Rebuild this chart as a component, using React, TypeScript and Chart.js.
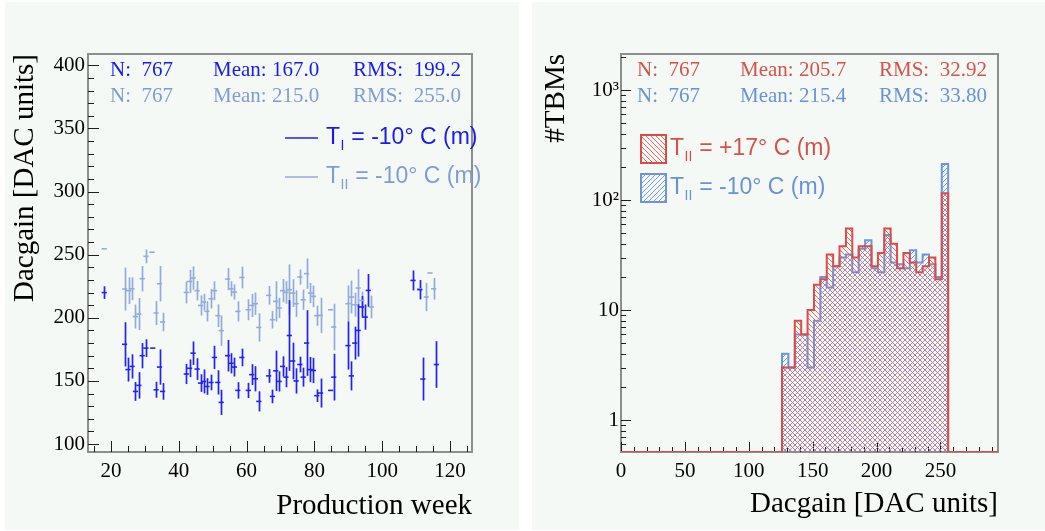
import React, { useEffect, useRef } from 'react';
import { Chart, registerables } from 'chart.js';
Chart.register(...registerables);

// ---------------- Left panel: Dacgain vs production week ----------------
const weeksI = [18.0, 24.0, 25.0, 26.2, 27.2, 28.2, 29.2, 30.3, 32.3, 33.3, 34.3, 35.2, 42.2, 43.2, 44.2, 45.4, 46.4, 47.3, 48.3, 49.5, 50.5, 51.5, 52.5, 54.4, 55.4, 56.4, 57.4, 58.6, 60.5, 61.5, 62.6, 63.6, 66.5, 67.6, 68.6, 69.6, 70.6, 71.6, 72.6, 73.6, 74.6, 75.7, 76.7, 77.7, 78.8, 79.7, 80.7, 81.8, 84.8, 85.7, 89.9, 90.9, 91.9, 92.9, 93.9, 95.0, 95.9, 109.1, 111.1, 112.0, 116.0];
const gainI = [220, 179, 159, 161.5, 141.7, 146.5, 170, 176, 176, 143, 161, 141.7, 155.5, 160, 172, 159.4, 148.3, 149.6, 145.6, 148.8, 168.6, 148.8, 133, 170, 164, 161, 142.5, 168.6, 142.5, 155, 151.7, 133.8, 154, 137.7, 158, 149.6, 161.5, 153, 186, 165.8, 150, 163, 153, 180, 159, 158.3, 138.3, 140.4, 142.5, 153, 178, 154, 180, 190, 208.6, 200.6, 221.7, 229.6, 222.3, 151.5, 163];
const errI = [5, 17.5, 9.5, 9.6, 7.5, 10.5, 10, 7, 0, 6.3, 14, 6.6, 8, 7, 9.3, 8.6, 7, 9.5, 6.6, 6.2, 9.2, 9.6, 10, 12.5, 8, 7.5, 6.5, 7, 6, 8.3, 10, 8, 5.5, 5.4, 16, 8, 8, 8, 28, 14.5, 10, 6.2, 7.5, 26, 10, 10, 5, 11.5, 0, 18.5, 19, 11.5, 13, 20.7, 8.6, 10, 13, 7.9, 7.7, 17, 18.5];

const weeksII = [18.0, 24.0, 25.2, 26.2, 27.2, 28.2, 29.2, 30.3, 32.1, 33.3, 34.3, 35.2, 42.2, 43.2, 44.2, 45.4, 46.4, 47.3, 48.3, 49.5, 50.5, 51.5, 52.5, 54.4, 55.4, 56.4, 57.4, 58.6, 60.5, 61.5, 62.6, 63.6, 66.5, 67.6, 68.6, 69.6, 70.6, 71.6, 72.6, 73.6, 74.6, 75.7, 76.7, 77.7, 78.8, 79.7, 80.7, 81.8, 84.8, 85.7, 89.9, 90.9, 91.9, 92.9, 94.0, 96.8, 111.1, 113.0, 114.1, 115.2];
const gainII = [254.7, 222.8, 221.5, 223, 201, 203, 231, 248.7, 252, 203.8, 227, 196.7, 220.1, 228.8, 231.5, 221.5, 209.8, 212.5, 205.1, 215.1, 221.5, 201.7, 189.8, 230.7, 223, 220.4, 205.1, 232, 206.4, 209.8, 211.2, 192.4, 217.8, 198.5, 213, 207.8, 221.5, 220.1, 222.3, 219.6, 211.2, 232.3, 214.3, 235, 219.6, 217, 201.7, 201.9, 206.4, 192.7, 211.2, 216.5, 210.4, 223.6, 213.8, 208.6, 223, 216.5, 235.5, 223];
const errII = [0, 17, 10.6, 9, 9.5, 12.7, 10, 5.5, 0, 9.5, 14, 7.3, 8.7, 9.2, 9.2, 7.7, 8, 6.6, 8, 7.7, 7.5, 9, 12, 8.8, 6, 6, 8, 8.6, 8.3, 9.2, 8.9, 11.2, 7.4, 7, 16, 8, 9.2, 9, 20, 11, 10.5, 6, 8, 12, 8, 8.6, 8, 14, 0, 18.5, 14.5, 13, 9.5, 15, 7, 9, 1, 11.2, 0, 8.6];

const statsLeftI = ['N:  767', 'Mean: 167.0', 'RMS:  199.2'];
const statsLeftII = ['N:  767', 'Mean: 215.0', 'RMS:  255.0'];

// ---------------- Right panel: Dacgain histograms ----------------
const binLow = 126;
const binWidth = 5;
const countsWarm = [3, 3, 8, 6, 10, 17, 19, 32, 25, 38, 55, 30, 38, 38, 25, 33, 55, 40, 24, 33, 27, 22, 25, 30, 19, 115];
const countsCold = [4, 3, 6, 6, 3, 8, 20, 16, 25, 30, 32, 22, 36, 43, 24, 22, 48, 27, 26, 24, 35, 27, 32, 26, 20, 212];
const statsRightWarm = ['N:  767', 'Mean: 205.7', 'RMS:  32.92'];
const statsRightCold = ['N:  767', 'Mean: 215.4', 'RMS:  33.80'];
const logTicks = [1, 10, 100, 1000];
const logTickLabels = ['1', '10', '10²', '10³'];

// ---------------- styles ----------------
const PAD_BG = '#f5f9f6';
const DARK = '#2222f2';
const LIGHT = '#93abdb';
const DARK_TXT = '#1a1aee';
const LIGHT_TXT = '#7f9dd4';
const RED = '#dc4b48';
const RED_TXT = '#d4524d';
const BLUE = '#6d95dc';
const BLUE_TXT = '#6a92d6';
const FRAME = '#8e8e8e';
const SERIF = '"Liberation Serif", "Times New Roman", serif';
const SANS = '"Liberation Sans", Arial, sans-serif';

const X_MIN_L = 13.2, X_MAX_L = 126.5, Y_MIN_L = 93.7, Y_MAX_L = 409;
const X_MIN_R = 0, X_MAX_R = 295, Y_MIN_R = 0.512, Y_MAX_R = 2125;

function framePlugin(cfg: { xMinor: number[]; yMinor: number[]; majorLen: number; minorLen: number }) {
  return {
    id: 'rootFrame',
    beforeDatasetsDraw(chart: any) {
      const { ctx, chartArea: a, scales } = chart;
      const xs = scales.x, ys = scales.y;
      ctx.save();
      ctx.strokeStyle = FRAME;
      ctx.lineWidth = 2;
      ctx.strokeRect(a.left, a.top, a.right - a.left, a.bottom - a.top);
      ctx.strokeStyle = '#1e1e1e';
      ctx.lineWidth = 1;
      ctx.beginPath();
      const tx = (v: number, len: number) => {
        const p = Math.round(xs.getPixelForValue(v)) + 0.5;
        ctx.moveTo(p, a.bottom);
        ctx.lineTo(p, a.bottom - len);
      };
      const ty = (v: number, len: number) => {
        const p = Math.round(ys.getPixelForValue(v)) + 0.5;
        ctx.moveTo(a.left, p);
        ctx.lineTo(a.left + len, p);
      };
      xs.ticks.forEach((t: any) => tx(t.value, cfg.majorLen));
      ys.ticks.forEach((t: any) => ty(t.value, cfg.majorLen));
      cfg.xMinor.forEach((v) => tx(v, cfg.minorLen));
      cfg.yMinor.forEach((v) => ty(v, cfg.minorLen));
      ctx.stroke();
      ctx.restore();
    },
  };
}

function drawSubLabel(ctx: CanvasRenderingContext2D, x: number, y: number, sub: string, rest: string, size: number, color: string) {
  ctx.fillStyle = color;
  ctx.textBaseline = 'middle';
  ctx.textAlign = 'left';
  ctx.font = `${size}px ${SANS}`;
  ctx.fillText('T', x, y);
  let cx = x + ctx.measureText('T').width + 0.5;
  ctx.font = `${Math.round(size * 0.62)}px ${SANS}`;
  ctx.fillText(sub, cx, y + size * 0.36);
  cx += ctx.measureText(sub).width + 0.5;
  ctx.font = `${size}px ${SANS}`;
  ctx.fillText(rest, cx, y);
}

function drawStats(ctx: CanvasRenderingContext2D, rows: { texts: string[]; color: string; y: number }[], xs: number[]) {
  ctx.font = `21px ${SERIF}`;
  ctx.textBaseline = 'middle';
  ctx.textAlign = 'left';
  rows.forEach((r) => {
    ctx.fillStyle = r.color;
    r.texts.forEach((t, i) => ctx.fillText(t, xs[i], r.y));
  });
}

function makeHatch(ctx: CanvasRenderingContext2D, color: string, back: boolean, size = 5) {
  const c = document.createElement('canvas');
  c.width = size;
  c.height = size;
  const g = c.getContext('2d')!;
  g.strokeStyle = color;
  g.lineWidth = 1;
  g.beginPath();
  if (back) {
    g.moveTo(-1, -1); g.lineTo(size + 1, size + 1);
    g.moveTo(-1, size - 1); g.lineTo(1, size + 1);
    g.moveTo(size - 1, -1); g.lineTo(size + 1, 1);
  } else {
    g.moveTo(-1, size + 1); g.lineTo(size + 1, -1);
    g.moveTo(-1, 1); g.lineTo(1, -1);
    g.moveTo(size - 1, size + 1); g.lineTo(size + 1, size - 1);
  }
  g.stroke();
  return ctx.createPattern(c, 'repeat')!;
}

export default function App() {
  const leftRef = useRef<HTMLCanvasElement>(null);
  const rightRef = useRef<HTMLCanvasElement>(null);

  useEffect(() => {
    const tickFont = { family: SERIF, size: 21 };
    const titleFont = { family: SERIF, size: 29 };

    // ---------- left chart ----------
    const ptsI = weeksI.map((w, i) => ({ x: w, y: gainI[i], e: errI[i] }));
    const ptsII = weeksII.map((w, i) => ({ x: w, y: gainII[i], e: errII[i] }));

    const xMinorL: number[] = [];
    for (let v = Math.ceil(X_MIN_L / 5) * 5; v <= X_MAX_L; v += 5) xMinorL.push(v);
    const yMinorL: number[] = [];
    for (let v = Math.ceil(Y_MIN_L / 10) * 10; v <= Y_MAX_L; v += 10) yMinorL.push(v);

    const errorBars = {
      id: 'errorBars',
      beforeDatasetsDraw(chart: any) {
        const { ctx, chartArea: a } = chart;
        const ys = chart.scales.y;
        ctx.save();
        ctx.beginPath();
        ctx.rect(a.left, a.top, a.right - a.left, a.bottom - a.top);
        ctx.clip();
        for (let i = chart.data.datasets.length - 1; i >= 0; i--) {
          const ds = chart.data.datasets[i];
          const meta = chart.getDatasetMeta(i);
          ctx.strokeStyle = ds.borderColor;
          ctx.lineWidth = 1.7;
          meta.data.forEach((el: any, j: number) => {
            const d = ds.data[j];
            if (!d.e) return;
            const x = Math.round(el.x) + 0.5;
            ctx.beginPath();
            ctx.moveTo(x, ys.getPixelForValue(d.y - d.e));
            ctx.lineTo(x, ys.getPixelForValue(d.y + d.e));
            ctx.stroke();
          });
        }
        ctx.restore();
      },
    };

    const overlayLeft = {
      id: 'overlayLeft',
      afterDraw(chart: any) {
        const ctx = chart.ctx as CanvasRenderingContext2D;
        ctx.save();
        drawStats(ctx, [
          { texts: statsLeftI, color: DARK_TXT, y: 70 },
          { texts: statsLeftII, color: LIGHT_TXT, y: 96 },
        ], [110, 213, 353]);
        ctx.lineWidth = 1.5;
        ctx.strokeStyle = DARK;
        ctx.beginPath(); ctx.moveTo(285, 138); ctx.lineTo(318, 138); ctx.stroke();
        ctx.strokeStyle = LIGHT;
        ctx.beginPath(); ctx.moveTo(285, 177); ctx.lineTo(318, 177); ctx.stroke();
        drawSubLabel(ctx, 326, 138, 'I', ' = -10° C (m)', 23, DARK_TXT);
        drawSubLabel(ctx, 326, 177, 'II', ' = -10° C (m)', 23, LIGHT_TXT);
        ctx.restore();
      },
    };

    const left = new Chart(leftRef.current!, {
      type: 'scatter',
      data: {
        datasets: [
          { label: 'T_I = -10° C (m)', data: ptsI as any, borderColor: DARK, backgroundColor: DARK, pointStyle: 'line', pointRadius: 2.6, pointBorderWidth: 1.6, showLine: false },
          { label: 'T_II = -10° C (m)', data: ptsII as any, borderColor: LIGHT, backgroundColor: LIGHT, pointStyle: 'line', pointRadius: 2.6, pointBorderWidth: 1.6, showLine: false },
        ],
      },
      options: {
        responsive: false,
        animation: false,
        events: [],
        layout: { padding: { left: 0, right: 48, top: 54, bottom: 0 } },
        plugins: { legend: { display: false }, tooltip: { enabled: false } },
        scales: {
          x: {
            type: 'linear', min: X_MIN_L, max: X_MAX_L,
            afterFit: (s: any) => { s.height = 79; },
            grid: { display: false, drawTicks: false }, border: { display: false },
            ticks: { stepSize: 20, includeBounds: false, padding: 7, font: tickFont, color: '#000', maxRotation: 0 },
            title: { display: true, text: 'Production week', align: 'end', font: titleFont, color: '#000', padding: { top: 0, bottom: 7 } },
          },
          y: {
            type: 'linear', min: Y_MIN_L, max: Y_MAX_L,
            afterFit: (s: any) => { s.width = 88; },
            grid: { display: false, drawTicks: false }, border: { display: false },
            ticks: { stepSize: 50, includeBounds: false, padding: 3, font: tickFont, color: '#000' },
            title: { display: true, text: 'Dacgain [DAC units]', align: 'end', font: titleFont, color: '#000', padding: { top: 8, bottom: 0 } },
          },
        },
      } as any,
      plugins: [framePlugin({ xMinor: xMinorL, yMinor: yMinorL, majorLen: 11, minorLen: 6 }), errorBars, overlayLeft],
    });

    // ---------- right chart ----------
    const rctx = rightRef.current!.getContext('2d')!;
    const hatchRed = makeHatch(rctx, 'rgba(228,92,90,0.9)', true);
    const hatchBlue = makeHatch(rctx, 'rgba(100,140,220,0.85)', false);

    const stepPoints = (counts: number[]) => {
      const pts: { x: number; y: number }[] = [{ x: X_MIN_R, y: Y_MIN_R }];
      counts.forEach((c, i) => pts.push({ x: binLow + i * binWidth, y: c > 0 ? c : Y_MIN_R }));
      pts.push({ x: binLow + counts.length * binWidth, y: Y_MIN_R });
      pts.push({ x: X_MAX_R, y: Y_MIN_R });
      return pts;
    };

    const xMinorR: number[] = [];
    for (let v = 10; v <= X_MAX_R; v += 10) if (v % 50 !== 0) xMinorR.push(v);
    const yMinorR: number[] = [];
    [0.1, 1, 10, 100, 1000].forEach((d) => {
      for (let k = 2; k <= 9; k++) {
        const v = k * d;
        if (v >= Y_MIN_R && v <= Y_MAX_R) yMinorR.push(v);
      }
    });

    const overlayRight = {
      id: 'overlayRight',
      afterDraw(chart: any) {
        const ctx = chart.ctx as CanvasRenderingContext2D;
        ctx.save();
        drawStats(ctx, [
          { texts: statsRightWarm, color: RED_TXT, y: 70 },
          { texts: statsRightCold, color: BLUE_TXT, y: 96 },
        ], [117, 220, 359]);
        // legend boxes
        ctx.fillStyle = hatchRed;
        ctx.fillRect(121, 135, 25, 28);
        ctx.strokeStyle = RED; ctx.lineWidth = 2;
        ctx.strokeRect(121, 135, 25, 28);
        ctx.fillStyle = hatchBlue;
        ctx.fillRect(121, 174, 25, 28);
        ctx.strokeStyle = BLUE; ctx.lineWidth = 2;
        ctx.strokeRect(121, 174, 25, 28);
        drawSubLabel(ctx, 150, 149, 'II', ' = +17° C (m)', 23, RED_TXT);
        drawSubLabel(ctx, 150, 188, 'II', ' = -10° C (m)', 23, BLUE_TXT);
        ctx.restore();
      },
    };

    const right = new Chart(rightRef.current!, {
      type: 'line',
      data: {
        datasets: [
          { label: 'T_II = +17° C (m)', data: stepPoints(countsWarm) as any, stepped: true, borderColor: RED, borderWidth: 2, pointRadius: 0, fill: 'start', backgroundColor: hatchRed as any },
          { label: 'T_II = -10° C (m)', data: stepPoints(countsCold) as any, stepped: true, borderColor: BLUE, borderWidth: 2, pointRadius: 0, fill: 'start', backgroundColor: hatchBlue as any },
        ],
      },
      options: {
        responsive: false,
        animation: false,
        events: [],
        layout: { padding: { left: 0, right: 47, top: 54, bottom: 0 } },
        plugins: { legend: { display: false }, tooltip: { enabled: false } },
        scales: {
          x: {
            type: 'linear', min: X_MIN_R, max: X_MAX_R,
            afterFit: (s: any) => { s.height = 79; },
            grid: { display: false, drawTicks: false }, border: { display: false },
            ticks: { stepSize: 50, includeBounds: false, padding: 7, font: tickFont, color: '#000', maxRotation: 0 },
            title: { display: true, text: 'Dacgain [DAC units]', align: 'end', font: titleFont, color: '#000', padding: { top: 0, bottom: 9 } },
          },
          y: {
            type: 'logarithmic', min: Y_MIN_R, max: Y_MAX_R,
            afterFit: (s: any) => { s.width = 101; },
            afterBuildTicks: (s: any) => { s.ticks = logTicks.map((v) => ({ value: v })); },
            grid: { display: false, drawTicks: false }, border: { display: false },
            ticks: {
              padding: 2, font: tickFont, color: '#000',
              callback: (v: any) => { const i = logTicks.indexOf(Number(v)); return i >= 0 ? logTickLabels[i] : ''; },
            },
            title: { display: true, text: '#TBMs', align: 'end', font: titleFont, color: '#000', padding: { top: 19, bottom: 0 } },
          },
        },
      } as any,
      plugins: [framePlugin({ xMinor: xMinorR, yMinor: yMinorR, majorLen: 10, minorLen: 5 }), overlayRight],
    });

    return () => {
      left.destroy();
      right.destroy();
    };
  }, []);

  return (
    <div style={{ position: 'fixed', left: 0, top: 0, width: 1045, height: 531, background: '#ffffff', overflow: 'hidden' }}>
      <div style={{ position: 'absolute', left: 5, top: 2, width: 514, height: 528, background: PAD_BG }} />
      <div style={{ position: 'absolute', left: 532, top: 2, width: 513, height: 528, background: PAD_BG }} />
      <canvas ref={leftRef} width={520} height={531} style={{ position: 'absolute', left: 0, top: 0, width: 520, height: 531 }} />
      <canvas ref={rightRef} width={525} height={531} style={{ position: 'absolute', left: 520, top: 0, width: 525, height: 531 }} />
    </div>
  );
}
